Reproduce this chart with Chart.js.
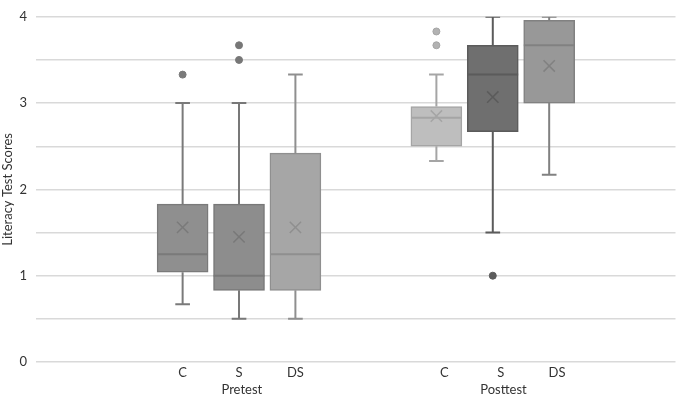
<!DOCTYPE html>
<html>
<head>
<meta charset="utf-8">
<script src="https://cdn.jsdelivr.net/npm/chart.js@4.4.0/dist/chart.umd.min.js"></script>
<style>
html, body { margin: 0; padding: 0; background: #fff; }
#wrap { width: 685px; height: 396px; }
</style>
</head>
<body>
<div id="wrap"><canvas id="box"></canvas></div>
<script>
var groups = ['Pretest', 'Posttest'];
var categories = ['C', 'S', 'DS'];
// one entry per box: Pretest C, S, DS, then Posttest C, S, DS
var whiskerLow  = [0.67, 0.5, 0.5, 2.33, 1.5, 2.17];
var q1          = [1.04, 0.83, 0.83, 2.5, 2.67, 3.0];
var median      = [1.25, 1.0, 1.25, 2.83, 3.33, 3.67];
var q3          = [1.83, 1.83, 2.42, 2.96, 3.67, 3.96];
var whiskerHigh = [3.0, 3.0, 3.33, 3.33, 4.0, 4.0];
var mean        = [1.56, 1.45, 1.56, 2.85, 3.07, 3.43];
var outliers    = [[3.33], [3.5, 3.67], [], [3.67, 3.83], [1.0], []];

var fills   = ['#8f8f8f', '#8d8d8d', '#a6a6a6', '#bebebe', '#6f6f6f', '#989898'];
var borders = ['#7a7a7a', '#787878', '#8f8f8f', '#a5a5a5', '#5b5b5b', '#818181'];
var dotFill = ['#7a7a7a', '#777777', '#8f8f8f', '#b2b2b2', '#5c5c5c', '#818181'];

var font = { family: 'Lato, "Open Sans", sans-serif', size: 13 };
var textColor = '#333333';

// layout helpers (slot units)
function pos(i) { return Math.floor(i / 3) * 4.5 + (i % 3) + 1; }
function labelPos(i) { return pos(i) + (i >= 3 ? 0.14 : 0); }
var halfBox = 0.45, halfCap = 0.13;

var boxes = [];
for (var i = 0; i < q1.length; i++) boxes.push({ x: pos(i), y: [q1[i], q3[i]] });

var datasets = [{
  type: 'bar',
  data: boxes,
  backgroundColor: fills,
  borderColor: borders,
  borderWidth: 1.5,
  borderSkipped: false,
  barThickness: 51,
  order: 3
}];

for (var i = 0; i < q1.length; i++) {
  var x = pos(i);
  var pts = [
    { x: x, y: whiskerLow[i] }, { x: x, y: q1[i] }, { x: x, y: null },
    { x: x, y: q3[i] }, { x: x, y: whiskerHigh[i] }, { x: x, y: null },
    { x: x - halfCap, y: whiskerLow[i] }, { x: x + halfCap, y: whiskerLow[i] }, { x: x, y: null },
    { x: x - halfCap, y: whiskerHigh[i] }, { x: x + halfCap, y: whiskerHigh[i] }, { x: x, y: null },
    { x: x - halfBox, y: median[i] }, { x: x + halfBox, y: median[i] }
  ];
  datasets.push({
    type: 'line',
    data: pts,
    borderColor: borders[i],
    borderWidth: 2,
    pointRadius: 0,
    spanGaps: false,
    tension: 0,
    order: 2
  });
}

datasets.push({
  type: 'scatter',
  data: mean.map(function (m, i) { return { x: pos(i), y: m }; }),
  pointStyle: 'crossRot',
  pointRadius: 8,
  borderWidth: 1.5,
  borderColor: borders,
  backgroundColor: borders,
  order: 1
});

var outPts = [], outFill = [], outBorder = [];
outliers.forEach(function (list, i) {
  list.forEach(function (v) {
    outPts.push({ x: pos(i), y: v });
    outFill.push(dotFill[i]);
    outBorder.push(borders[i]);
  });
});
datasets.push({
  type: 'scatter',
  data: outPts,
  pointStyle: 'circle',
  pointRadius: 3.5,
  borderWidth: 1,
  backgroundColor: outFill,
  borderColor: outBorder,
  order: 0
});

var xRange = { min: -1.6, max: 9.74 };

new Chart(document.getElementById('box').getContext('2d'), {
  type: 'bar',
  data: { datasets: datasets },
  options: {
    responsive: true,
    maintainAspectRatio: false,
    animation: false,
    layout: { padding: { top: 1, right: 0, left: 0, bottom: 0 } },
    plugins: { legend: { display: false }, tooltip: { enabled: false } },
    scales: {
      x: {
        type: 'linear',
        position: 'bottom',
        offset: false,
        min: xRange.min,
        max: xRange.max,
        grid: { display: false, drawTicks: false, offset: false },
        border: { display: false },
        afterBuildTicks: function (axis) {
          axis.ticks = q1.map(function (_, i) { return { value: labelPos(i) }; });
        },
        afterFit: function (axis) { axis.height = 20; },
        ticks: {
          autoSkip: false,
          maxRotation: 0,
          padding: 3,
          color: textColor,
          font: font,
          callback: function (v, idx) { return categories[idx % 3]; }
        }
      },
      x2: {
        type: 'linear',
        position: 'bottom',
        offset: false,
        min: xRange.min,
        max: xRange.max,
        grid: { display: false, drawTicks: false, offset: false },
        border: { display: false },
        afterBuildTicks: function (axis) {
          axis.ticks = groups.map(function (_, g) { return { value: (labelPos(g * 3) + labelPos(g * 3 + 2)) / 2 + 0.05 }; });
        },
        afterFit: function (axis) { axis.height = 14; },
        ticks: {
          autoSkip: false,
          maxRotation: 0,
          padding: 0,
          color: textColor,
          font: font,
          callback: function (v, idx) { return groups[idx]; }
        }
      },
      y: {
        min: 0,
        max: 4,
        afterFit: function (axis) { axis.width = 36; },
        grid: { color: '#d9d9d9', lineWidth: 1.5, drawTicks: false },
        border: { display: false },
        title: { display: true, text: 'Literacy Test Scores', color: textColor, font: font, padding: 0 },
        ticks: {
          stepSize: 0.5,
          padding: 9,
          color: textColor,
          font: font,
          callback: function (v) { return Number.isInteger(v) ? v : ''; }
        }
      }
    }
  }
});
</script>
</body>
</html>
